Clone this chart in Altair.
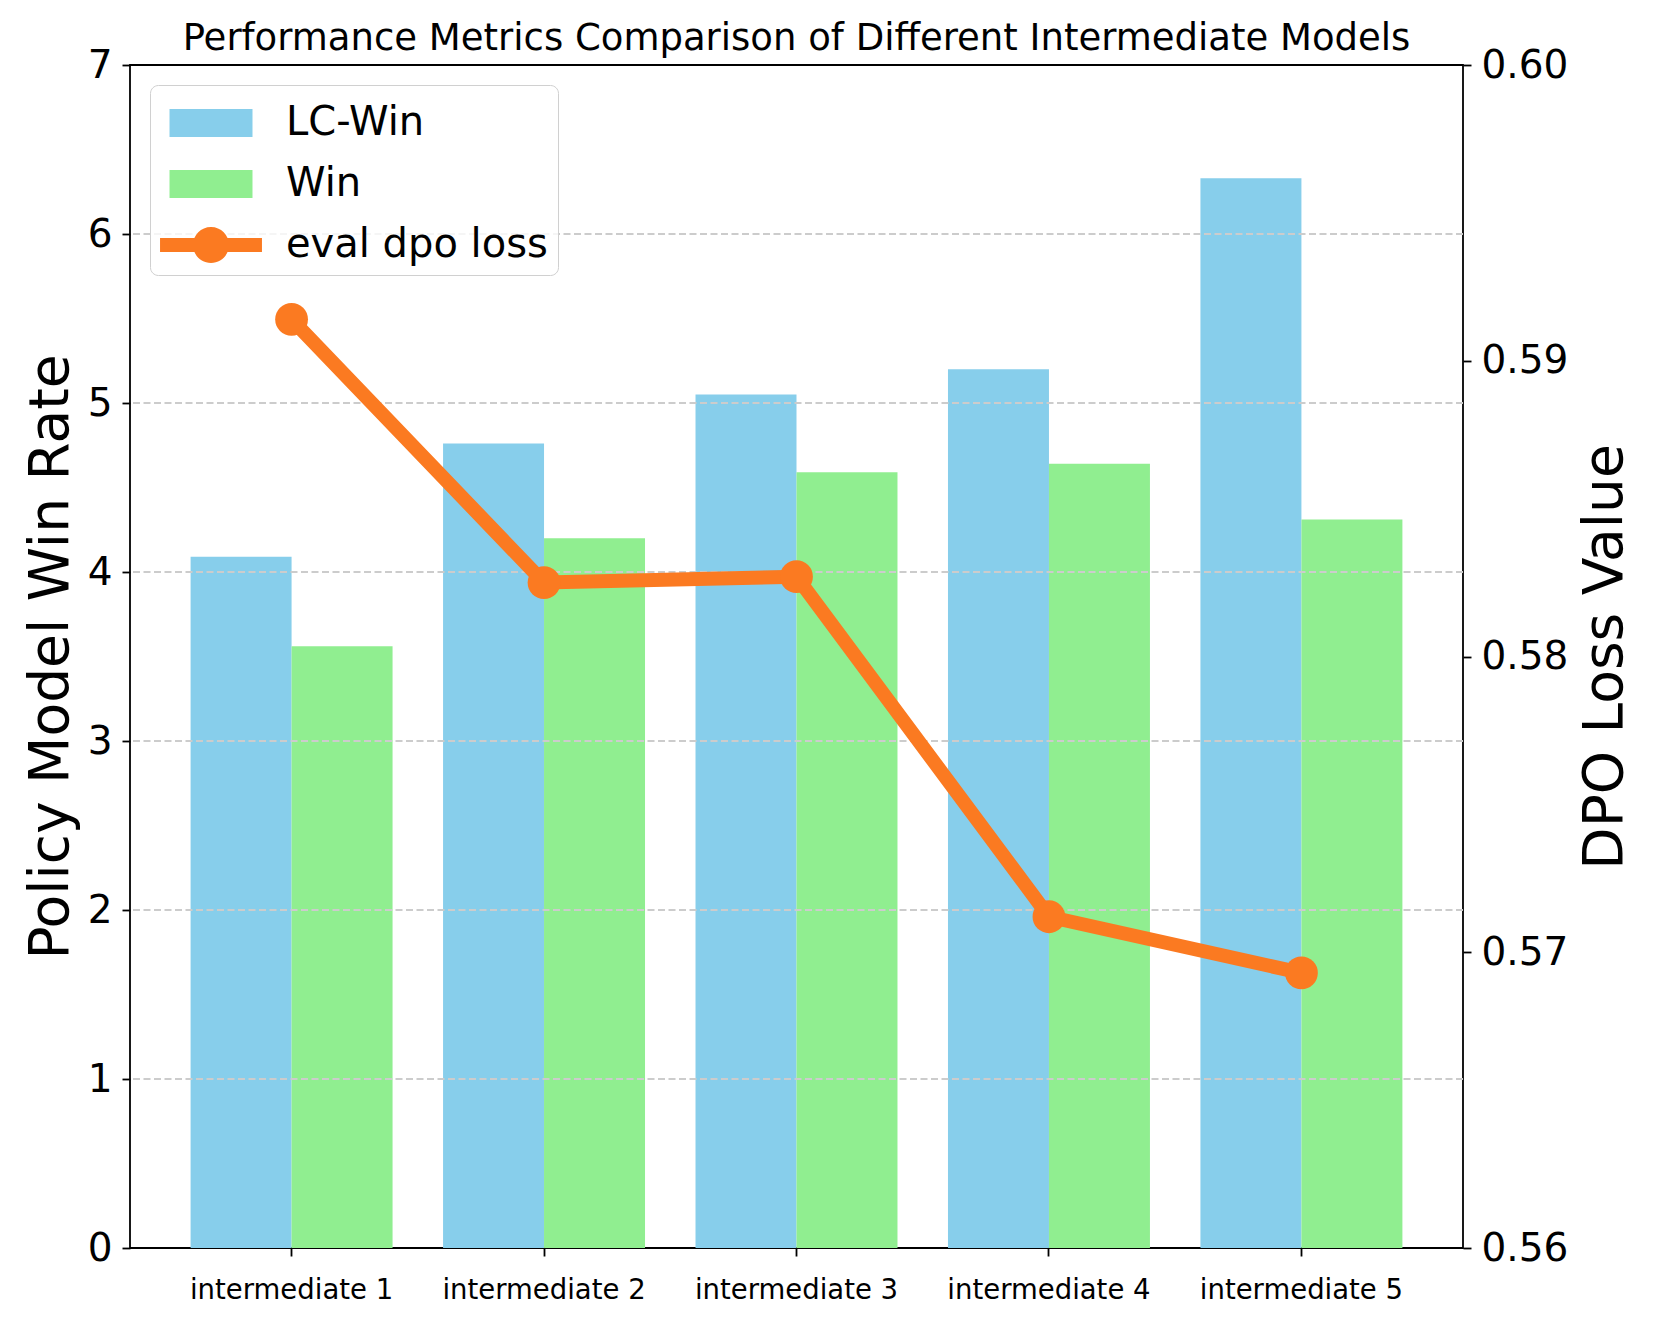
import altair as alt
import pandas as pd

models = ["intermediate 1", "intermediate 2", "intermediate 3", "intermediate 4", "intermediate 5"]
series = ["LC-Win", "Win"]
lc_win = [4.09, 4.76, 5.05, 5.20, 6.33]
win = [3.56, 4.20, 4.59, 4.64, 4.31]
dpo_loss = [0.5914, 0.5825, 0.5827, 0.5712, 0.5693]
legend_labels = ["LC-Win", "Win", "eval dpo loss"]
left_ticks = [0, 1, 2, 3, 4, 5, 6, 7]
grid_values = [1, 2, 3, 4, 5, 6]
right_ticks = [0.56, 0.57, 0.58, 0.59, 0.60]

SKY = "#87CEEB"
GREEN = "#90EE90"
ORANGE = "#FB7A21"
FONT = "DejaVu Sans"

bars_df = pd.DataFrame({
    "model": models * 2,
    "series": [series[0]] * len(models) + [series[1]] * len(models),
    "value": lc_win + win,
})
line_df = pd.DataFrame({"model": models, "loss": dpo_loss})
grid_df = pd.DataFrame({"g": grid_values})
legend_df = pd.DataFrame({"label": legend_labels})

x_axis = alt.Axis(
    title=None, labelAngle=0, labelFontSize=27.5, labelColor="black", labelFont=FONT,
    labelLimit=500, tickSize=8, tickWidth=1.8, tickColor="black", domain=False,
    labelPadding=20,
)
x_scale = alt.Scale(paddingInner=0.2, paddingOuter=0.24)

left_axis = alt.Axis(
    orient="left", values=left_ticks, format="d", title="Policy Model Win Rate",
    titleFontSize=55, titleFontWeight="normal", titleFont=FONT, titleColor="black",
    titlePadding=8, labelFontSize=39, labelFont=FONT, labelColor="black",
    tickSize=8, tickWidth=1.8, tickColor="black", domain=False, grid=False,
    labelPadding=10,
)
left_scale = alt.Scale(domain=[0, 7], nice=False, zero=True)

bars = alt.Chart(bars_df).mark_bar(strokeWidth=0).encode(
    x=alt.X("model:N", sort=models, scale=x_scale, axis=x_axis),
    xOffset=alt.XOffset("series:N", sort=series, scale=alt.Scale(paddingInner=0, paddingOuter=0)),
    y=alt.Y("value:Q", scale=left_scale, axis=left_axis),
    color=alt.Color("series:N", scale=alt.Scale(domain=series, range=[SKY, GREEN]), legend=None),
)

grid = alt.Chart(grid_df).mark_rule(
    color="#cccccc", strokeWidth=1.8, strokeDash=[7, 3.5]
).encode(
    y=alt.Y("g:Q", scale=left_scale, axis=left_axis),
)

left_part = alt.layer(bars, grid)

line = alt.Chart(line_df).mark_line(
    color=ORANGE, strokeWidth=14, strokeJoin="round",
    point=alt.OverlayMarkDef(filled=True, size=1075, color=ORANGE, opacity=1),
).encode(
    x=alt.X("model:N", sort=models, scale=x_scale, axis=x_axis),
    y=alt.Y(
        "loss:Q",
        scale=alt.Scale(domain=[0.56, 0.60], nice=False, zero=False),
        axis=alt.Axis(
            orient="right", values=right_ticks, format=".2f", title="DPO Loss Value",
            titleFontSize=55, titleFontWeight="normal", titleFont=FONT, titleColor="black",
            titleAngle=270, titleBaseline="top", titlePadding=11,
            labelFontSize=39, labelFont=FONT, labelColor="black",
            tickSize=8, tickWidth=1.8, tickColor="black", domain=False, grid=False,
            labelPadding=10,
        ),
    ),
)

shape_paths = [
    "M-1.482,-0.5H1.482V0.5H-1.482Z",
    "M-1.482,-0.5H1.482V0.5H-1.482Z",
    "M-1.82,-0.25H1.82V0.25H-1.82Z M-0.643,0A0.643,0.643 0 1,1 0.643,0A0.643,0.643 0 1,1 -0.643,0Z",
]

legend_def = alt.Legend(
    title=None, orient="none", legendX=20, legendY=20,
    symbolSize=3136, symbolStrokeWidth=0, symbolOffset=23, symbolOpacity=1,
    labelOffset=47, labelFontSize=40, labelFont=FONT, labelColor="black", labelLimit=600,
    padding=10, rowPadding=13,
    strokeColor="#d0d0d0", fillColor="rgba(255,255,255,0.8)", cornerRadius=8,
)

legend_layer = alt.Chart(legend_df).mark_point(filled=True).encode(
    fill=alt.Fill("label:N", scale=alt.Scale(domain=legend_labels, range=[SKY, GREEN, ORANGE]), legend=legend_def),
    shape=alt.Shape("label:N", scale=alt.Scale(domain=legend_labels, range=shape_paths), legend=legend_def),
).transform_filter("false")

chart = alt.layer(left_part, line, legend_layer).resolve_scale(
    y="independent"
).properties(
    width=1333,
    height=1183,
    title=alt.TitleParams(
        "Performance Metrics Comparison of Different Intermediate Models",
        fontSize=37, fontWeight="normal", font=FONT, color="black",
        anchor="middle", baseline="alphabetic", frame="group", offset=5, dy=46,
    ),
    padding={"left": 122, "top": 57, "right": 190, "bottom": 75},
    autosize=alt.AutoSizeParams(type="none"),
).configure(
    background="white", font=FONT
).configure_view(
    stroke="black", strokeWidth=1.8
)

chart.save("out.html", embed_options={"renderer": "svg", "actions": False})
